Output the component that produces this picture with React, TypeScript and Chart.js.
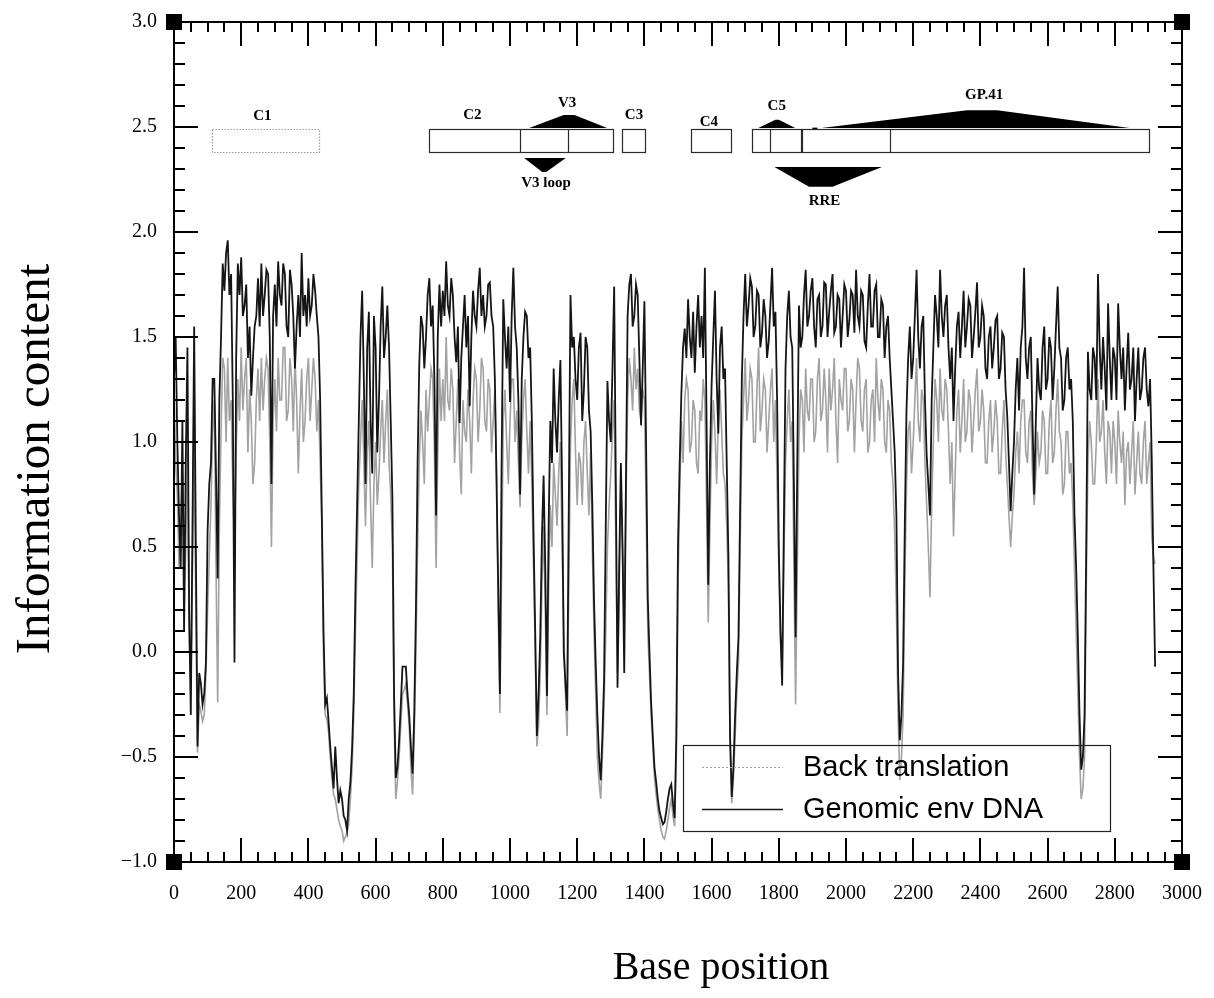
import React, { useEffect, useRef } from 'react';
import { Chart, registerables } from 'chart.js';

Chart.register(...registerables);

// ---------------- data (information content every 5 bases) ----------------
const BASE_STEP = 5;

const genomicEnvDNA: number[] = [
  1.30, 1.50, 1.00, 0.65, 0.40, 1.10, 0.10, 0.90, 1.45, 0.20, -0.30, 0.60, 1.55, 0.50, -0.45, -0.10, -0.15, -0.25, -0.20, -0.05,
  0.58, 0.80, 0.90, 1.30, 1.30, 0.85, 0.35, 1.20, 1.50, 1.85, 1.72, 1.90, 1.96, 1.70, 1.80, 1.20, -0.05, 1.40, 1.85, 1.70,
  1.88, 1.60, 1.65, 1.75, 1.40, 1.55, 1.22, 1.40, 1.55, 1.60, 1.78, 1.55, 1.85, 1.60, 1.70, 1.82, 1.80, 1.50, 0.80, 1.60,
  1.75, 1.55, 1.86, 1.70, 1.65, 1.85, 1.80, 1.55, 1.50, 1.82, 1.75, 1.60, 1.35, 1.55, 1.70, 1.50, 1.90, 1.60, 1.70, 1.55,
  1.78, 1.60, 1.65, 1.80, 1.72, 1.60, 1.50, 1.20, 0.65, 0.10, -0.25, -0.22, -0.33, -0.45, -0.55, -0.65, -0.45, -0.60, -0.72, -0.66,
  -0.70, -0.78, -0.80, -0.85, -0.70, -0.62, -0.46, -0.20, 0.30, 0.70, 1.10, 1.50, 1.72, 1.30, 0.80, 1.45, 1.62, 1.10, 0.85, 1.60,
  1.45, 0.95, 1.20, 1.55, 1.74, 1.40, 1.50, 1.65, 1.45, 1.10, 0.73, -0.20, -0.60, -0.55, -0.42, -0.25, -0.07, -0.07, -0.07, -0.20,
  -0.30, -0.45, -0.58, -0.30, 0.20, 0.90, 1.37, 1.60, 1.55, 1.35, 1.50, 1.70, 1.78, 1.55, 1.65, 1.30, 0.65, 1.50, 1.75, 1.55,
  1.72, 1.60, 1.86, 1.65, 1.60, 1.78, 1.70, 1.50, 1.38, 1.55, 1.09, 1.40, 1.55, 1.70, 1.45, 1.60, 1.17, 1.50, 1.72, 1.60,
  1.55, 1.72, 1.83, 1.60, 1.70, 1.55, 1.60, 1.75, 1.76, 1.60, 1.55, 1.30, 0.80, 0.30, -0.20, 0.90, 1.68, 1.50, 1.35, 1.55,
  1.19, 1.60, 1.83, 1.55, 1.45, 1.20, 0.75, 1.30, 1.50, 1.62, 1.60, 1.40, 1.45, 1.10, 0.57, 0.10, -0.40, -0.20, 0.07, 0.55,
  0.84, 0.40, -0.21, 0.60, 1.10, 0.90, 1.35, 1.10, 0.95, 1.20, 1.39, 0.80, 0.00, -0.15, -0.28, 0.70, 1.70, 1.45, 1.50, 1.30,
  1.20, 1.45, 1.52, 1.10, 1.25, 1.50, 1.45, 1.15, 1.05, 0.70, 0.25, -0.05, -0.30, -0.50, -0.61, -0.40, -0.13, 0.60, 1.29, 1.10,
  1.00, 1.35, 1.74, 0.80, -0.17, 0.40, 0.90, 0.50, -0.10, 0.80, 1.60, 1.75, 1.80, 1.55, 1.60, 1.75, 1.70, 1.40, 1.08, 1.35,
  1.67, 1.00, 0.26, 0.00, -0.24, -0.40, -0.55, -0.62, -0.70, -0.76, -0.79, -0.82, -0.81, -0.76, -0.70, -0.65, -0.63, -0.72, -0.79, -0.40,
  0.51, 0.90, 1.23, 1.45, 1.54, 1.40, 1.68, 1.50, 1.40, 1.62, 1.33, 1.55, 1.70, 1.45, 1.60, 1.40, 1.83, 1.10, 0.32, 0.90,
  1.27, 1.50, 1.72, 1.30, 1.04, 1.45, 1.55, 1.30, 1.35, 0.90, 0.46, -0.40, -0.69, -0.55, -0.30, -0.10, 0.07, 0.70, 1.30, 1.60,
  1.80, 1.55, 1.65, 1.78, 1.74, 1.50, 1.55, 1.72, 1.70, 1.45, 1.52, 1.68, 1.60, 1.40, 1.48, 1.65, 1.83, 1.55, 1.62, 1.20,
  0.50, 0.10, -0.16, 0.60, 1.35, 1.60, 1.72, 1.50, 1.45, 0.80, 0.07, 0.90, 1.65, 1.45, 1.50, 1.70, 1.82, 1.55, 1.60, 1.72,
  1.78, 1.55, 1.45, 1.68, 1.70, 1.50, 1.55, 1.76, 1.75, 1.50, 1.62, 1.72, 1.80, 1.52, 1.55, 1.70, 1.68, 1.45, 1.60, 1.75,
  1.72, 1.50, 1.58, 1.72, 1.70, 1.52, 1.82, 1.60, 1.55, 1.72, 1.70, 1.48, 1.45, 1.65, 1.80, 1.55, 1.55, 1.72, 1.75, 1.50,
  1.50, 1.68, 1.65, 1.40, 1.55, 1.60, 1.40, 1.25, 1.10, 0.95, 0.65, -0.10, -0.42, -0.30, -0.05, 0.60, 1.15, 1.40, 1.55, 1.30,
  1.40, 1.60, 1.82, 1.50, 1.35, 1.55, 1.60, 1.20, 0.94, 0.80, 0.65, 1.20, 1.45, 1.70, 1.60, 1.45, 1.82, 1.60, 1.50, 1.65,
  1.70, 1.45, 1.30, 1.45, 1.10, 1.35, 1.55, 1.62, 1.40, 1.55, 1.72, 1.45, 1.55, 1.68, 1.65, 1.40, 1.50, 1.62, 1.76, 1.45,
  1.50, 1.65, 1.60, 1.35, 1.30, 1.50, 1.55, 1.35, 1.45, 1.58, 1.60, 1.30, 1.35, 1.52, 1.50, 1.25, 1.12, 0.90, 0.67, 0.85,
  1.00, 1.25, 1.40, 1.15, 1.45, 1.55, 1.83, 1.40, 1.30, 1.45, 1.50, 1.10, 0.75, 1.10, 1.40, 1.25, 1.20, 1.45, 1.55, 1.25,
  1.30, 1.50, 1.45, 1.20, 1.35, 1.55, 1.74, 1.45, 1.40, 1.15, 1.20, 1.40, 1.45, 1.25, 1.30, 1.10, 0.65, 0.40, 0.07, -0.30,
  -0.56, -0.50, -0.30, 0.50, 1.43, 1.25, 1.20, 1.45, 1.40, 1.20, 1.80, 1.45, 1.25, 1.50, 1.35, 1.15, 1.66, 1.40, 1.20, 1.45,
  1.40, 1.20, 1.66, 1.45, 1.30, 1.45, 1.15, 1.35, 1.52, 1.25, 1.30, 1.45, 1.10, 1.30, 1.45, 1.20, 1.25, 1.40, 1.45, 1.25,
  1.17, 1.30, 0.92, 0.40, -0.07,
];

const backTranslation: number[] = [
  1.28, 0.90, 0.75, 0.40, 0.60, 0.85, 0.20, 0.50, 0.95, 0.10, -0.20, 0.40, 1.00, 0.20, -0.48, -0.25, -0.28, -0.33, -0.30, -0.10,
  0.20, 0.45, 0.70, 1.05, 1.20, 0.40, -0.24, 0.60, 1.05, 1.40, 1.35, 1.00, 1.40, 1.10, 1.20, 0.80, 0.50, 0.95, 1.30, 1.10,
  1.45, 1.15, 1.30, 1.40, 0.95, 1.25, 1.10, 0.80, 0.90, 1.20, 1.35, 1.10, 1.40, 1.15, 1.30, 1.40, 1.35, 1.00, 0.50, 1.10,
  1.30, 1.05, 1.40, 1.20, 1.20, 1.45, 1.45, 1.10, 1.15, 1.40, 1.30, 1.05, 1.40, 1.20, 0.85, 1.15, 1.35, 1.00, 1.10, 1.30,
  1.40, 1.10, 1.25, 1.40, 1.30, 1.05, 1.20, 0.90, 0.60, 0.00, -0.30, -0.32, -0.38, -0.50, -0.60, -0.68, -0.70, -0.75, -0.80, -0.83,
  -0.85, -0.90, -0.88, -0.86, -0.82, -0.70, -0.55, -0.30, 0.10, 0.45, 0.80, 1.00, 1.20, 0.90, 0.60, 0.95, 1.10, 0.70, 0.40, 0.80,
  1.00, 0.70, 0.85, 1.05, 1.20, 0.90, 1.10, 1.25, 0.90, 0.75, 0.50, -0.30, -0.70, -0.62, -0.50, -0.35, -0.20, -0.18, -0.15, -0.25,
  -0.35, -0.55, -0.68, -0.40, 0.00, 0.50, 0.90, 1.15, 1.00, 0.80, 1.25, 1.05, 1.20, 1.35, 1.30, 0.95, 0.40, 0.95, 1.35, 1.10,
  1.30, 1.10, 1.50, 1.20, 1.15, 1.35, 1.25, 0.90, 1.10, 1.30, 0.95, 0.75, 1.20, 1.05, 1.00, 1.25, 1.10, 0.85, 1.20, 1.35,
  1.30, 1.00, 1.15, 1.40, 1.35, 1.10, 1.05, 1.30, 1.25, 0.95, 1.10, 1.25, 0.85, 0.20, -0.29, 0.40, 1.10, 1.25, 1.00, 0.80,
  1.10, 1.30, 1.30, 1.00, 1.15, 0.90, 0.69, 1.00, 1.20, 1.30, 1.05, 0.85, 1.10, 0.80, 0.40, 0.00, -0.45, -0.35, -0.10, 0.30,
  0.60, 0.20, -0.30, 0.30, 0.70, 0.50, 0.90, 0.75, 0.60, 0.85, 1.00, 0.50, 0.10, -0.20, -0.40, 0.30, 1.00, 1.20, 1.30, 0.95,
  0.70, 0.95, 0.90, 0.70, 1.00, 1.10, 0.85, 0.65, 0.95, 0.50, 0.10, -0.20, -0.50, -0.62, -0.70, -0.50, -0.25, 0.10, 0.50, 0.70,
  0.85, 1.05, 1.20, 0.50, -0.10, 0.30, 0.80, 0.45, 0.20, 0.70, 1.20, 1.40, 1.30, 1.15, 1.45, 1.25, 1.35, 1.15, 1.10, 1.25,
  1.20, 0.70, 0.10, -0.10, -0.30, -0.45, -0.60, -0.68, -0.75, -0.80, -0.85, -0.88, -0.89, -0.85, -0.80, -0.74, -0.70, -0.78, -0.83, -0.50,
  0.30, 0.75, 1.10, 0.90, 1.20, 1.30, 1.25, 0.95, 1.00, 1.20, 1.15, 0.90, 0.85, 1.15, 1.10, 1.30, 1.20, 0.70, 0.14, 0.60,
  1.00, 1.20, 1.05, 0.80, 1.10, 1.25, 1.05, 0.85, 0.80, 0.60, 0.30, -0.45, -0.72, -0.60, -0.40, -0.20, -0.05, 0.50, 1.00, 1.20,
  1.40, 1.10, 1.20, 1.35, 1.30, 1.00, 1.00, 1.25, 1.45, 1.05, 1.15, 1.30, 1.25, 0.95, 1.10, 1.25, 1.35, 1.00, 1.20, 0.80,
  0.40, 0.05, -0.10, 0.40, 0.90, 1.10, 1.25, 1.00, 1.10, 0.40, -0.25, 0.40, 1.00, 1.25, 1.20, 0.95, 1.35, 1.15, 1.10, 1.30,
  1.30, 1.00, 1.05, 1.30, 1.40, 1.10, 1.15, 1.35, 1.20, 0.95, 1.35, 1.15, 1.25, 1.40, 1.10, 0.90, 1.30, 1.20, 1.15, 1.35,
  1.35, 1.05, 1.10, 1.30, 1.25, 0.95, 1.20, 1.40, 1.35, 1.10, 1.05, 1.25, 1.30, 0.95, 1.00, 1.20, 1.25, 1.00, 1.40, 1.20,
  1.10, 1.30, 1.25, 1.00, 0.95, 1.20, 1.15, 0.90, 0.80, 0.55, 0.20, -0.30, -0.61, -0.50, -0.30, 0.30, 0.80, 1.05, 1.10, 0.85,
  1.00, 1.20, 1.40, 1.10, 1.00, 1.25, 1.20, 0.90, 0.70, 0.50, 0.26, 0.70, 1.00, 1.30, 1.20, 1.00, 1.35, 1.15, 1.10, 1.30,
  1.25, 1.05, 0.80, 1.00, 0.55, 0.85, 1.15, 1.25, 0.95, 1.10, 1.30, 1.00, 1.05, 1.25, 1.20, 0.95, 1.10, 1.25, 1.35, 1.05,
  1.10, 1.25, 1.15, 0.90, 0.90, 1.10, 1.20, 0.95, 1.05, 1.20, 1.10, 0.85, 0.85, 1.05, 1.20, 0.95, 0.80, 0.65, 0.50, 0.65,
  0.75, 0.95, 1.05, 0.85, 1.10, 1.20, 1.20, 0.95, 0.90, 1.10, 1.15, 0.85, 0.70, 0.85, 1.05, 0.90, 0.95, 1.15, 1.10, 0.85,
  0.85, 1.10, 1.20, 0.90, 0.95, 1.15, 1.30, 1.05, 1.00, 0.75, 0.80, 1.05, 1.05, 0.85, 0.90, 0.70, 0.40, 0.10, -0.20, -0.50,
  -0.70, -0.65, -0.50, 0.30, 0.90, 1.10, 1.00, 0.80, 0.80, 1.00, 1.30, 1.00, 1.05, 1.20, 0.95, 0.80, 1.10, 1.05, 0.85, 1.10,
  1.00, 0.80, 1.15, 1.00, 0.90, 1.05, 0.70, 0.95, 1.00, 0.80, 0.95, 1.10, 0.75, 0.90, 1.05, 0.85, 0.80, 1.00, 1.10, 0.80,
  0.90, 1.00, 0.55, 0.45, 0.42,
];

const basePositions: number[] = genomicEnvDNA.map((_, i) => i * BASE_STEP);

const seriesLabels = ['Back translation', 'Genomic env DNA'];

const xTickValues = [0, 200, 400, 600, 800, 1000, 1200, 1400, 1600, 1800, 2000, 2200, 2400, 2600, 2800, 3000];
const xTickLabels = xTickValues.map((v) => String(v));
const yTickValues = [-1, -0.5, 0, 0.5, 1, 1.5, 2, 2.5, 3];
const yTickLabels = ['\u22121.0', '\u22120.5', '0.0', '0.5', '1.0', '1.5', '2.0', '2.5', '3.0'];

const xTitle = 'Base position';
const yTitle = 'Information content';

// ---------------- gene map track (base positions / info-content units) ----------------
const regionNames = ['C1', 'C2', 'C3', 'C4', 'C5', 'GP.41'];
const regionStart = [113, 760, 1333, 1540, 1720, 1869];
const regionEnd = [431, 1307, 1401, 1659, 1866, 2903];
const regionDividers = [1031, 1173, 1774, 2130];
const regionLabelBase = [263, 888, 1369, 1592, 1794, 2411];
const regionLabelValue = [2.55, 2.557, 2.557, 2.524, 2.6, 2.652];
const trackTop = 2.49;
const trackBottom = 2.38;

const featureNames = ['V3', 'V3 loop', 'RRE'];
const featureLabelBase = [1170, 1107, 1936];
const featureLabelValue = [2.614, 2.233, 2.148];
const featureShapes: number[][][] = [
  [[1057, 2.495], [1160, 2.557], [1192, 2.557], [1289, 2.495]],
  [[1042, 2.352], [1166, 2.352], [1108, 2.286], [1096, 2.286]],
  [[1739, 2.495], [1790, 2.535], [1800, 2.535], [1849, 2.495]],
  [[1927, 2.495], [2360, 2.58], [2450, 2.58], [2844, 2.495]],
  [[1787, 2.31], [2107, 2.31], [1960, 2.215], [1890, 2.215]],
  [[1900, 2.49], [1915, 2.49], [1915, 2.497], [1900, 2.497]],
];

const FONT_SERIF = '"Liberation Serif", "Times New Roman", serif';
const FONT_SANS = '"Liberation Sans", Arial, Helvetica, sans-serif';

const decorPlugin = {
  id: 'decor',
  afterDatasetsDraw(chart: any) {
    const { ctx, chartArea: ca, scales } = chart;
    const xs = scales.x;
    const ys = scales.y;
    const px = (v: number) => xs.getPixelForValue(v);
    const py = (v: number) => ys.getPixelForValue(v);
    ctx.save();

    // gene map boxes
    for (let i = 0; i < regionNames.length; i++) {
      const x0 = px(regionStart[i]);
      const x1 = px(regionEnd[i]);
      const y0 = py(trackTop);
      const y1 = py(trackBottom);
      ctx.lineWidth = 1.2;
      if (i === 0) {
        ctx.strokeStyle = '#9a9a9a';
        ctx.setLineDash([1.5, 1.5]);
      } else {
        ctx.strokeStyle = '#2a2a2a';
        ctx.setLineDash([]);
      }
      ctx.strokeRect(Math.round(x0) + 0.5, Math.round(y0) + 0.5, Math.round(x1 - x0), Math.round(y1 - y0));
    }
    ctx.setLineDash([]);
    ctx.strokeStyle = '#2a2a2a';
    regionDividers.forEach((d) => {
      const x = Math.round(px(d)) + 0.5;
      ctx.beginPath();
      ctx.moveTo(x, py(trackTop));
      ctx.lineTo(x, py(trackBottom));
      ctx.stroke();
    });

    // feature shapes
    ctx.fillStyle = '#000';
    featureShapes.forEach((shape) => {
      ctx.beginPath();
      shape.forEach(([b, v], k) => {
        if (k === 0) ctx.moveTo(px(b), py(v));
        else ctx.lineTo(px(b), py(v));
      });
      ctx.closePath();
      ctx.fill();
    });

    // labels
    ctx.fillStyle = '#000';
    ctx.textAlign = 'center';
    ctx.textBaseline = 'middle';
    ctx.font = `bold 15px ${FONT_SERIF}`;
    regionNames.forEach((n, i) => ctx.fillText(n, px(regionLabelBase[i]), py(regionLabelValue[i])));
    featureNames.forEach((n, i) => ctx.fillText(n, px(featureLabelBase[i]), py(featureLabelValue[i])));

    // legend (inside the plot, bottom right)
    const lx = ca.right - 499;
    const ly = ca.bottom - 117;
    const lw = 427;
    const lh = 86;
    ctx.strokeStyle = '#222';
    ctx.lineWidth = 1.2;
    ctx.strokeRect(lx + 0.5, ly + 0.5, lw, lh);
    const ds = chart.data.datasets;
    const rows = [ly + 22, ly + 64];
    ds.forEach((d: any, i: number) => {
      ctx.beginPath();
      ctx.strokeStyle = d.borderColor;
      ctx.lineWidth = i === 0 ? 1.2 : 1.4;
      ctx.setLineDash(i === 0 ? [2, 2] : []);
      ctx.moveTo(lx + 19, rows[i] + 0.5);
      ctx.lineTo(lx + 100, rows[i] + 0.5);
      ctx.stroke();
      ctx.setLineDash([]);
      ctx.fillStyle = '#000';
      ctx.font = `29px ${FONT_SANS}`;
      ctx.textAlign = 'left';
      ctx.textBaseline = 'middle';
      ctx.fillText(d.label, lx + 120, rows[i] + 1);
    });
    ctx.restore();
  },
  afterDraw(chart: any) {
    const { ctx, chartArea: ca, scales } = chart;
    const xs = scales.x;
    const ys = scales.y;
    ctx.save();
    ctx.strokeStyle = '#000';
    ctx.lineWidth = 2;
    ctx.strokeRect(ca.left, ca.top, ca.right - ca.left, ca.bottom - ca.top);

    // inward ticks on all four sides
    ctx.beginPath();
    for (let v = 0; v <= 3000; v += 50) {
      const x = Math.round(xs.getPixelForValue(v));
      const len = v % 200 === 0 ? 24 : 10;
      ctx.moveTo(x, ca.bottom);
      ctx.lineTo(x, ca.bottom - len);
      ctx.moveTo(x, ca.top);
      ctx.lineTo(x, ca.top + len);
    }
    for (let i = -10; i <= 30; i++) {
      const y = Math.round(ys.getPixelForValue(i / 10));
      const len = i % 5 === 0 ? 24 : 11;
      ctx.moveTo(ca.left, y);
      ctx.lineTo(ca.left + len, y);
      ctx.moveTo(ca.right, y);
      ctx.lineTo(ca.right - len, y);
    }
    ctx.stroke();

    // corner markers
    ctx.fillStyle = '#000';
    const s = 16;
    [[ca.left, ca.top], [ca.right, ca.top], [ca.left, ca.bottom], [ca.right, ca.bottom]].forEach(([cx, cy]) => {
      ctx.fillRect(cx - s / 2, cy - s / 2, s, s);
    });

    // axis titles
    ctx.fillStyle = '#000';
    ctx.textAlign = 'center';
    ctx.textBaseline = 'alphabetic';
    ctx.font = `40px ${FONT_SERIF}`;
    ctx.fillText(xTitle, (ca.left + ca.right) / 2 + 43, 979);
    ctx.translate(49, (ca.top + ca.bottom) / 2 + 17);
    ctx.rotate(-Math.PI / 2);
    ctx.font = `49px ${FONT_SERIF}`;
    ctx.fillText(yTitle, 0, 0);
    ctx.restore();
  },
};

export default function App() {
  const canvasRef = useRef<HTMLCanvasElement | null>(null);

  useEffect(() => {
    const canvas = canvasRef.current;
    if (!canvas) return;
    const chart = new Chart(canvas, {
      type: 'line',
      data: {
        datasets: [
          {
            label: seriesLabels[0],
            data: basePositions.map((x, i) => ({ x, y: backTranslation[i] })),
            borderColor: '#a2a2a2',
            borderWidth: 1.6,
            pointRadius: 0,
            tension: 0,
            fill: false,
            order: 2,
          },
          {
            label: seriesLabels[1],
            data: basePositions.map((x, i) => ({ x, y: genomicEnvDNA[i] })),
            borderColor: '#151515',
            borderWidth: 1.8,
            pointRadius: 0,
            tension: 0,
            fill: false,
            order: 1,
          },
        ],
      },
      options: {
        responsive: false,
        animation: false,
        devicePixelRatio: 1,
        layout: { padding: { top: 22, right: 30, left: 0, bottom: 0 } },
        plugins: {
          legend: { display: false },
          tooltip: { enabled: false },
        },
        scales: {
          x: {
            type: 'linear',
            min: 0,
            max: 3000,
            grid: { display: false },
            border: { display: false },
            ticks: {
              stepSize: 50,
              autoSkip: false,
              maxRotation: 0,
              padding: 12,
              color: '#000',
              font: { family: FONT_SERIF, size: 20 },
              callback: (v: any) => {
                const k = xTickValues.indexOf(Number(v));
                return k >= 0 ? xTickLabels[k] : '';
              },
            },
            afterFit: (s: any) => {
              s.height = 136;
            },
          },
          y: {
            type: 'linear',
            min: -1,
            max: 3,
            grid: { display: false },
            border: { display: false },
            ticks: {
              stepSize: 0.1,
              autoSkip: false,
              padding: 9,
              color: '#000',
              font: { family: FONT_SERIF, size: 20 },
              callback: (v: any) => {
                const k = yTickValues.findIndex((t) => Math.abs(t - Number(v)) < 1e-6);
                return k >= 0 ? yTickLabels[k] : '';
              },
            },
            afterFit: (s: any) => {
              s.width = 174;
            },
          },
        },
      } as any,
      plugins: [decorPlugin],
    });
    return () => chart.destroy();
  }, []);

  return (
    <div style={{ position: 'absolute', left: 0, top: 0, width: 1214, height: 998, background: '#fff' }}>
      <canvas ref={canvasRef} width={1214} height={998} style={{ display: 'block', width: 1214, height: 998 }} />
    </div>
  );
}
